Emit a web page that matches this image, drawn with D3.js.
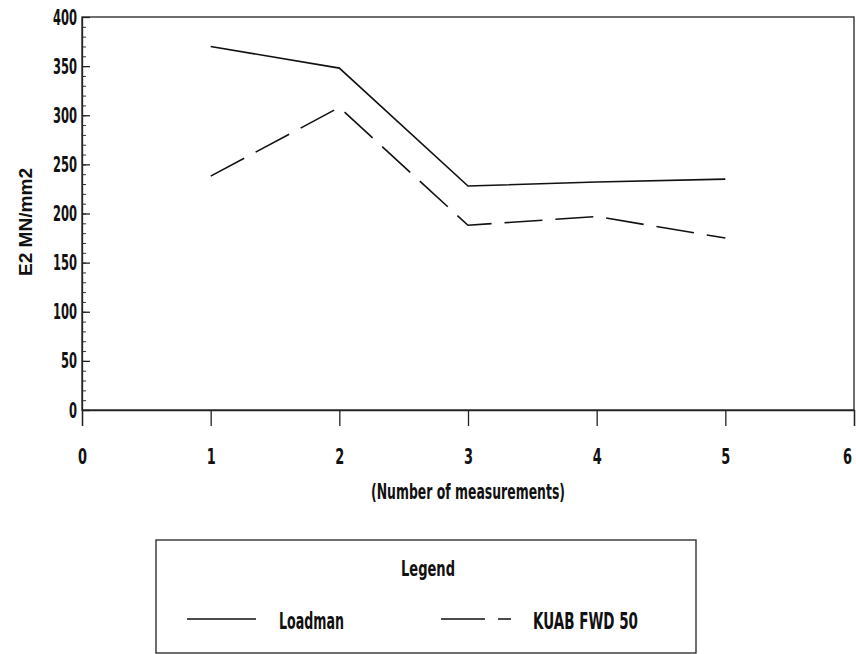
<!DOCTYPE html>
<html>
<head>
<meta charset="utf-8">
<script src="https://cdn.jsdelivr.net/npm/d3@7"></script>
<style>
  body { margin: 0; background: #fff; }
  text { font-family: "DejaVu Sans Condensed", "Liberation Sans Narrow", "Arial Narrow", sans-serif; font-weight: bold; fill: #111; }
</style>
</head>
<body>
<div id="chart"></div>
<script>
// data
var measurements = [1, 2, 3, 4, 5];
var loadman = [370, 348, 228, 232, 235];
var kuab = [238, 308, 188, 197, 175];
var xTicks = [0, 1, 2, 3, 4, 5, 6];
var yTicks = [0, 50, 100, 150, 200, 250, 300, 350, 400];
var seriesNames = ["Loadman", "KUAB FWD 50"];

var W = 856, H = 654;
var margin = { top: 17, right: 2, bottom: 244, left: 82 },
    width = W - margin.left - margin.right,
    height = H - margin.top - margin.bottom;

var svg = d3.select("#chart").append("svg")
    .attr("width", W)
    .attr("height", H);

var g = svg.append("g")
    .attr("transform", "translate(" + margin.left + "," + margin.top + ")");

var x = d3.scaleLinear().domain([0, 6]).range([0, width]);
var y = d3.scaleLinear().domain([0, 400]).range([height, 0]);

// squeeze text to the narrow typeface of the original
function narrow(sel, perChar) {
    sel.attr("lengthAdjust", "spacingAndGlyphs")
        .attr("textLength", function () { return this.textContent.length * perChar; });
}

// frame
g.append("rect")
    .attr("width", width)
    .attr("height", height)
    .style("fill", "none")
    .style("stroke", "#222")
    .style("stroke-width", "1.3px");

// y axis: minor ticks every 10, majors every 50, pointing inward
var yMinor = d3.range(0, 401, 10);
g.append("g")
    .call(d3.axisRight(y).tickValues(yMinor).tickSize(4).tickFormat(""))
    .call(function (s) { s.select(".domain").remove(); })
    .selectAll("line").style("stroke", "#333");

var yAxis = g.append("g")
    .call(d3.axisLeft(y).tickValues(yTicks).tickSize(0).tickPadding(5));
yAxis.select(".domain").style("stroke", "#222").style("stroke-width", "1.3px");
yAxis.selectAll("text")
    .style("font-size", "22px")
    .call(narrow, 8);

g.append("g")
    .call(d3.axisRight(y).tickValues(yTicks).tickSize(8).tickFormat(""))
    .call(function (s) { s.select(".domain").remove(); })
    .selectAll("line").style("stroke", "#222").style("stroke-width", "1.3px");

// x axis: ticks pointing down
var xAxis = g.append("g")
    .attr("transform", "translate(0," + height + ")")
    .call(d3.axisBottom(x).tickValues(xTicks).tickSize(16).tickPadding(22).tickFormat(d3.format("d")));
xAxis.select(".domain").style("stroke", "#222").style("stroke-width", "1.3px");
xAxis.selectAll("line").style("stroke", "#222").style("stroke-width", "1.3px");
xAxis.selectAll("text")
    .style("font-size", "22px")
    .call(narrow, 9)
    .attr("dx", function (d) { return d === 6 ? -7 : 0; });

// lines
var line = d3.line()
    .x(function (d, i) { return x(measurements[i]); })
    .y(function (d) { return y(d); });

g.append("path")
    .datum(loadman)
    .attr("d", line)
    .style("fill", "none")
    .style("stroke", "#111")
    .style("stroke-width", "1.6px");

g.append("path")
    .datum(kuab)
    .attr("d", line)
    .style("fill", "none")
    .style("stroke", "#111")
    .style("stroke-width", "1.6px")
    .style("stroke-dasharray", "38,13");

// axis titles
svg.append("text")
    .attr("transform", "translate(32,222) rotate(-90)")
    .style("text-anchor", "middle")
    .style("font-family", "'Liberation Sans', Arial, sans-serif")
    .style("font-size", "18px")
    .attr("lengthAdjust", "spacingAndGlyphs")
    .attr("textLength", 108)
    .text("E2 MN/mm2");

svg.append("text")
    .attr("x", 468)
    .attr("y", 499)
    .style("text-anchor", "middle")
    .style("font-size", "21px")
    .attr("lengthAdjust", "spacingAndGlyphs")
    .attr("textLength", 194)
    .text("(Number of measurements)");

// legend
var legend = svg.append("g").attr("transform", "translate(156,540)");
legend.append("rect")
    .attr("width", 540)
    .attr("height", 113)
    .style("fill", "none")
    .style("stroke", "#222")
    .style("stroke-width", "1.3px");

legend.append("text")
    .attr("x", 245)
    .attr("y", 36)
    .style("font-size", "22px")
    .attr("lengthAdjust", "spacingAndGlyphs")
    .attr("textLength", 54)
    .text("Legend");

legend.append("line")
    .attr("x1", 31).attr("x2", 100)
    .attr("y1", 79).attr("y2", 79)
    .style("stroke", "#111")
    .style("stroke-width", "1.6px");
legend.append("text")
    .attr("x", 123).attr("y", 89)
    .style("font-size", "23px")
    .attr("lengthAdjust", "spacingAndGlyphs")
    .attr("textLength", 65)
    .text(seriesNames[0]);

legend.append("line")
    .attr("x1", 285).attr("x2", 355)
    .attr("y1", 79).attr("y2", 79)
    .style("stroke", "#111")
    .style("stroke-width", "1.6px")
    .style("stroke-dasharray", "44,13,13,13");
legend.append("text")
    .attr("x", 377).attr("y", 89)
    .style("font-size", "23px")
    .attr("lengthAdjust", "spacingAndGlyphs")
    .attr("textLength", 105)
    .text(seriesNames[1]);
</script>
</body>
</html>
